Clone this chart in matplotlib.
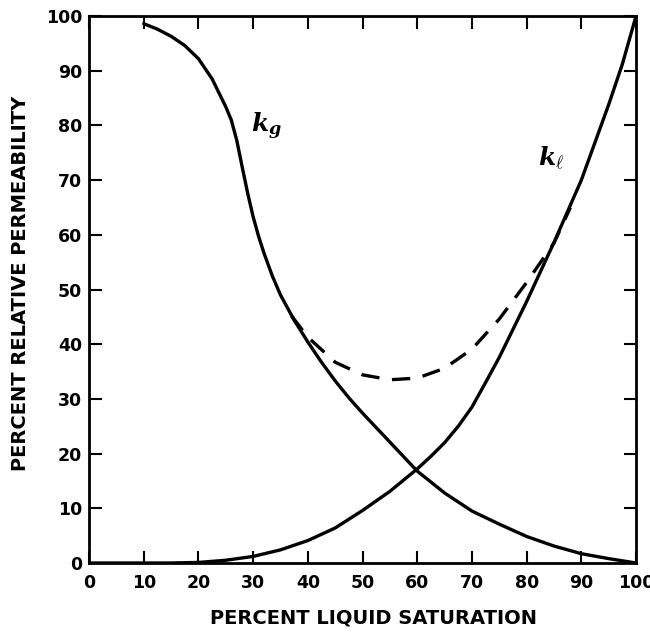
import matplotlib
matplotlib.use("Agg")
import matplotlib.pyplot as plt

plt.rcParams['font.family'] = ['DejaVu Sans']
plt.rcParams['mathtext.fontset'] = 'custom'
plt.rcParams['mathtext.it'] = 'DejaVu Serif:italic:bold'
plt.rcParams['mathtext.rm'] = 'DejaVu Serif:bold'

# gas relative permeability (k_g)
kg_x = [10, 12.5, 15, 17.5, 20, 22.5, 25, 26, 27, 28, 29, 30, 31, 32, 33.5,
        35, 37.5, 40, 42.5, 45, 47.5, 50, 55, 60, 65, 70, 75, 80, 85, 90, 95,
        100]
kg_y = [98.6, 97.6, 96.3, 94.6, 92.2, 88.5, 83.4, 81, 77.3, 72.4, 67.6, 63.3,
        59.7, 56.6, 52.5, 49.0, 44.4, 40.4, 36.7, 33.3, 30.2, 27.4, 22.1, 16.8,
        12.8, 9.5, 7.1, 4.85, 3.1, 1.7, 0.8, 0]

# liquid relative permeability (k_l)
kl_x = [0, 10, 15, 20, 25, 30, 35, 40, 45, 50, 55, 60, 62.5, 65, 67.5, 70,
        72.5, 75, 77.5, 80, 85, 90, 95, 97.5, 100]
kl_y = [0, 0, 0, 0.1, 0.5, 1.2, 2.4, 4.1, 6.4, 9.6, 13.1, 17.2, 19.5, 22, 25,
        28.5, 33, 37.6, 42.7, 47.8, 58.6, 70, 83.8, 91.2, 100]

# dashed total curve
tot_x = [37, 40, 45, 50, 55, 60, 65, 70, 75, 80, 85, 88]
tot_y = [45.2, 41.3, 36.7, 34.4, 33.5, 33.8, 35.6, 39.1, 44.6, 51.3, 58.5, 65]

ticks = [0, 10, 20, 30, 40, 50, 60, 70, 80, 90, 100]

fig = plt.figure(figsize=(6.5, 6.36), dpi=100)
ax = fig.add_axes([0.137, 0.1148, 0.8415, 0.86])

ax.plot(kg_x, kg_y, color='black', lw=2.4, solid_capstyle='round',
        solid_joinstyle='round')
ax.plot(kl_x, kl_y, color='black', lw=2.4, solid_capstyle='round',
        solid_joinstyle='round')
ax.plot(tot_x, tot_y, color='black', lw=2.4, dashes=(5.5, 3.8))

ax.text(32.5, 79.9, r'$k_g$', fontsize=18, ha='center', va='center')
ax.text(84.5, 74, r'$k_\ell$', fontsize=18, ha='center', va='center')

ax.set_xlim(0, 100)
ax.set_ylim(0, 100)
ax.set_xticks(ticks)
ax.set_yticks(ticks)
ax.tick_params(direction='in', length=9, width=1.5, top=True, right=True,
               labelsize=12.5)
ax.tick_params(axis='x', pad=8)
ax.tick_params(axis='y', pad=5)
for lab in ax.get_xticklabels() + ax.get_yticklabels():
    lab.set_fontweight('bold')
for s in ax.spines.values():
    s.set_linewidth(2)

fig.text(0.575, 0.014, 'PERCENT LIQUID SATURATION', ha='center', va='bottom',
         fontsize=14, fontweight='bold')
fig.text(0.031, 0.554, 'PERCENT RELATIVE PERMEABILITY', ha='center',
         va='center', rotation=90, fontsize=14, fontweight='bold')

fig.savefig('out.png', dpi=100)
